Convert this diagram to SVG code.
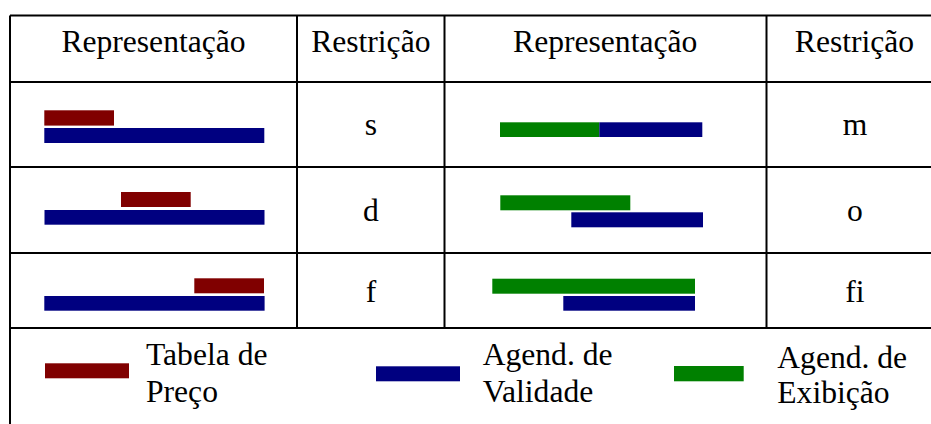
<svg xmlns="http://www.w3.org/2000/svg" width="931" height="424" viewBox="0 0 931 424">
<style>
.ln{stroke:#000;stroke-width:2;fill:none}
text{font-family:'Liberation Serif','DejaVu Serif',serif;font-size:31.6px;fill:#000}
.c{text-anchor:middle}
.r{fill:#800000}
.b{fill:#000080}
.g{fill:#008000}
</style>
<rect width="931" height="424" fill="#fff"/>
<g id="grid">
<path class="ln" d="M10,15.5H931 M10,82H931 M10,167H931 M10,253H931 M10,328H931 M10,15.5V424 M297,15.5V328 M444.5,15.5V328 M766.5,15.5V328"/>
</g>
<g id="header">
<text class="c" x="153.5" y="52">Representação</text>
<text class="c" x="370.8" y="52">Restrição</text>
<text class="c" x="605.2" y="52">Representação</text>
<text class="c" x="854.5" y="52">Restrição</text>
</g>
<g id="row-s">
<rect class="r" x="44.3" y="110.3" width="69.7" height="15.3"/>
<rect class="b" x="44.3" y="128" width="220" height="15"/>
<text class="c" x="371" y="135">s</text>
</g>
<g id="row-m">
<rect class="g" x="500" y="122.3" width="99.3" height="14.7"/>
<rect class="b" x="599.3" y="122.3" width="103" height="14.7"/>
<text class="c" x="855" y="135">m</text>
</g>
<g id="row-d">
<rect class="r" x="121" y="192" width="69.7" height="15"/>
<rect class="b" x="44.5" y="210" width="220" height="14.7"/>
<text class="c" x="371" y="221">d</text>
</g>
<g id="row-o">
<rect class="g" x="500.3" y="195.3" width="130" height="15"/>
<rect class="b" x="571.3" y="212.3" width="131.7" height="15"/>
<text class="c" x="855" y="221">o</text>
</g>
<g id="row-f">
<rect class="r" x="194.3" y="278.3" width="69.7" height="15"/>
<rect class="b" x="44.3" y="296" width="220.3" height="14.7"/>
<text class="c" x="371" y="301.5">f</text>
</g>
<g id="row-fi">
<rect class="g" x="492.3" y="278.7" width="202.7" height="15"/>
<rect class="b" x="563.3" y="296" width="131.7" height="14.7"/>
<text class="c" x="855" y="301.5">fi</text>
</g>
<g id="legend-preco">
<rect class="r" x="45" y="363.3" width="84" height="15"/>
<text x="146" y="365">Tabela de</text>
<text x="146" y="401.7">Preço</text>
</g>
<g id="legend-validade">
<rect class="b" x="376" y="366.3" width="84" height="15"/>
<text x="482.7" y="365">Agend. de</text>
<text x="482.7" y="401.7">Validade</text>
</g>
<g id="legend-exibicao">
<rect class="g" x="674" y="366" width="69.7" height="15.3"/>
<text x="777.3" y="367.5">Agend. de</text>
<text x="777.3" y="403.3">Exibição</text>
</g>
</svg>
